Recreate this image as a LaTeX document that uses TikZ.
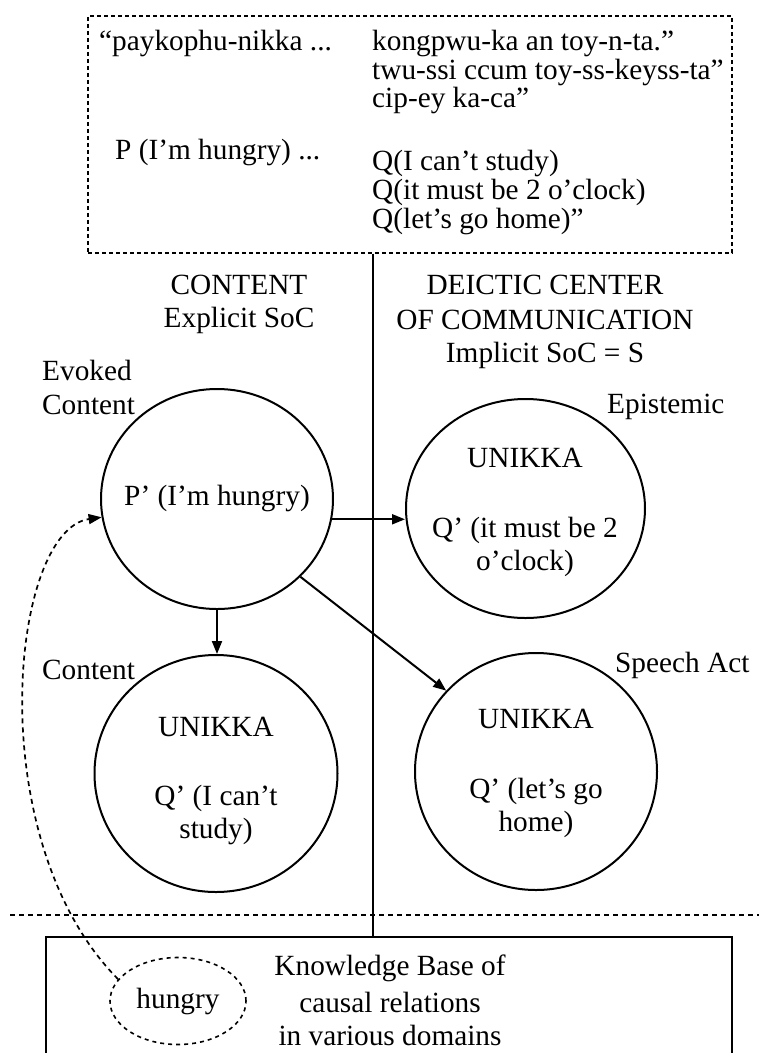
\documentclass[tikz,border=0pt]{standalone}
\usepackage{fontspec}
\setmainfont{Liberation Serif}
\usetikzlibrary{shapes.geometric,arrows.meta}
\begin{document}
\begin{tikzpicture}[x=1pt,y=-1pt,
  every node/.style={font=\fontsize{29.3}{33}\selectfont, inner sep=0pt},
  bubble/.style={draw, ellipse, line width=2pt},
  dotbox/.style={draw, line width=1.6pt, dash pattern=on 4pt off 3pt},
  solidline/.style={line width=2pt},
  arr/.style={line width=2pt, -{Triangle[length=13pt,width=10pt]}},
  dasharr/.style={line width=1.7pt, dash pattern=on 5pt off 4pt, -{Triangle[length=13pt,width=10pt]}},
]
\useasboundingbox (0,0) rectangle (759,1053);
\clip (0,0) rectangle (759,1053);

% top dotted box with quotation
\node[dotbox, minimum width=644, minimum height=237, anchor=north west] (top) at (87,15) {};
\node[anchor=west] (t1) at (99,43) {“paykophu-nikka ...};
\node[anchor=west] (t2) at (372,43) {kongpwu-ka an toy-n-ta.”};
\node[anchor=west] (t3) at (372,72) {twu-ssi ccum toy-ss-keyss-ta”};
\node[anchor=west] (t4) at (372,100) {cip-ey ka-ca”};
\node[anchor=west] (t5) at (115,152) {P (I’m hungry) ...};
\node[anchor=west] (t6) at (372,163) {Q(I can’t study)};
\node[anchor=west] (t7) at (372,192) {Q(it must be 2 o’clock)};
\node[anchor=west] (t8) at (372,221) {Q(let’s go home)”};

% bottom knowledge base box
\node[draw, solidline, minimum width=686, minimum height=200, anchor=north west] (kb) at (45,936) {};
\node (k1) at (390,968) {Knowledge Base of};
\node (k2) at (390,1002) {causal relations};
\node (k3) at (390,1035) {in various domains};
\node[draw, ellipse, line width=1.6pt, dash pattern=on 4pt off 4pt, minimum width=136, minimum height=87] (H) at (178,1001) {hungry};

% dividing lines
\coordinate (vl) at (373,936);
\draw[solidline] (vl |- top.south) -- (vl);
\coordinate (hl1) at (10,915);
\coordinate (hl2) at (759,915);
\draw[line width=1.6pt, dash pattern=on 5pt off 4pt] (hl1) -- (hl2);

% headers
\node (h1) at (239,285) {CONTENT};
\node (h2) at (239,320) {Explicit SoC};
\node (h3) at (545,285) {DEICTIC CENTER};
\node (h4) at (545,320) {OF COMMUNICATION};
\node (h5) at (545,355) {Implicit SoC = S};

% labels
\node[anchor=west] (lev1) at (42,370) {Evoked};
\node[anchor=west] (lev2) at (42,405) {Content};
\node[anchor=west] (lc) at (42,670) {Content};
\node[anchor=west] (le) at (607,407) {Epistemic};
\node[anchor=west] (ls) at (615,665) {Speech Act};

% bubbles
\node[bubble, minimum width=232, minimum height=220] (P) at (217,499) {};
\node (ptxt) at (217,498) {P’ (I’m hungry)};

\node[bubble, minimum width=239, minimum height=219] (E) at (525.5,508.5) {};
\node (e1) at (525,458) {UNIKKA};
\node (e2) at (525,530) {Q’ (it must be 2};
\node (e3) at (525,563) {o’clock)};

\node[bubble, minimum width=243, minimum height=237] (C) at (216,773.5) {};
\node (c1) at (216,727) {UNIKKA};
\node (c2) at (216,798) {Q’ (I can’t};
\node (c3) at (216,831) {study)};

\node[bubble, minimum width=242, minimum height=237] (S) at (536,771.5) {};
\node (s1) at (536,719) {UNIKKA};
\node (s2) at (536,791) {Q’ (let’s go};
\node (s3) at (536,824) {home)};

% connectors
\draw[arr] (P.-10.4) -- (E.west |- P.-10.4);
\draw[arr] (P.south) -- (P.south |- C.north);
\draw[arr] (P.-43) -- (S.138.5);
\draw[dasharr] (H.160) .. controls (-20,840) and (10,530) .. (P.189.5);
\end{tikzpicture}
\end{document}
